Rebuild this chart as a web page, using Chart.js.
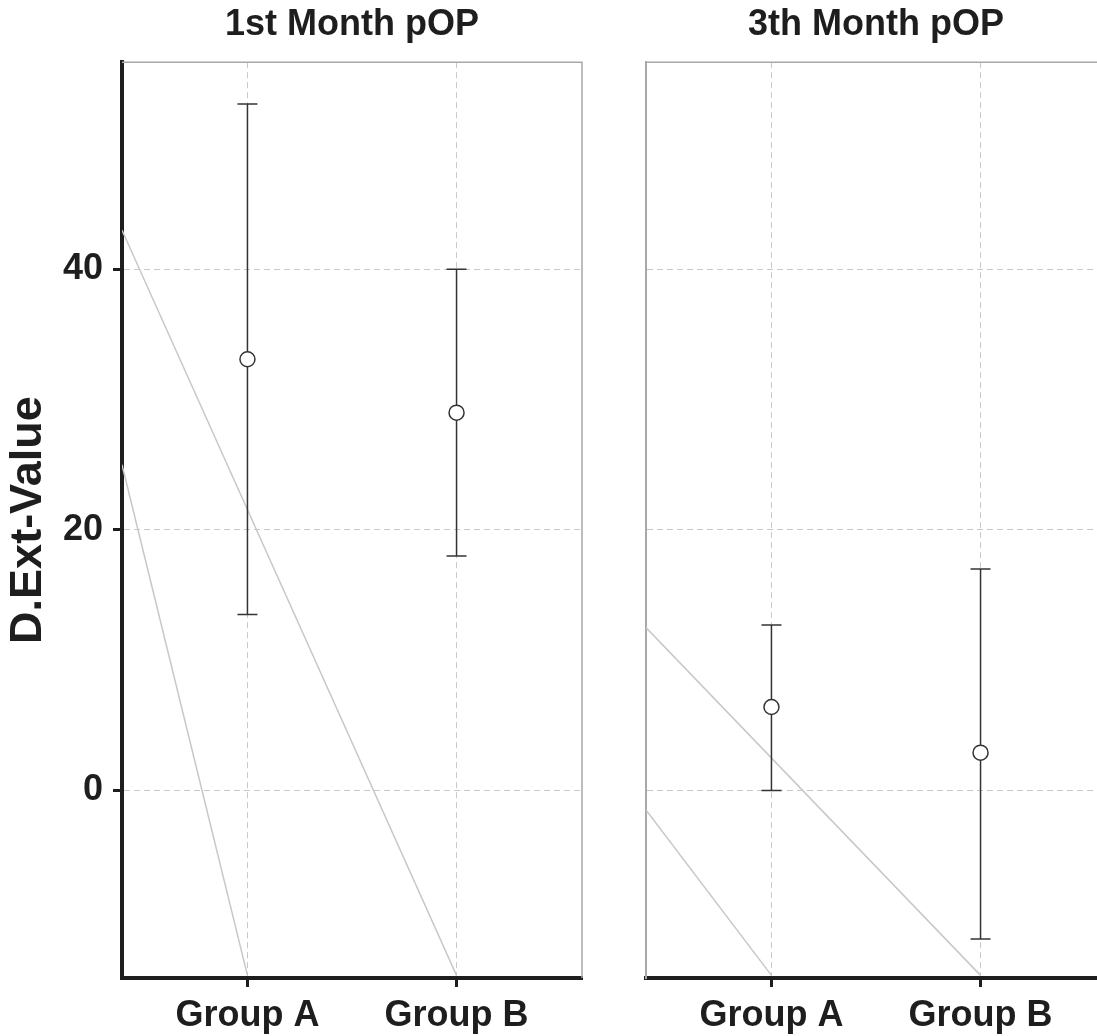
<!DOCTYPE html>
<html>
<head>
<meta charset="utf-8">
<title>D.Ext-Value by month</title>
<script src="https://cdn.jsdelivr.net/npm/chart.js@4.4.1/dist/chart.umd.min.js"></script>
<style>
  html, body { margin: 0; padding: 0; background: #fff; overflow: hidden; }
  .panel { position: absolute; top: 0; }
  #panel-1 { left: 0; }
  #panel-3 { left: 620px; }
</style>
</head>
<body>
<div class="panel" id="panel-1"><canvas id="chart-1" width="600" height="1036"></canvas></div>
<div class="panel" id="panel-3"><canvas id="chart-3" width="500" height="1036"></canvas></div>
<script>
const groups = ["Group A", "Group B"];
const groupPos = [1, 2];
const yTicks = [0, 20, 40];
const panelTitles = ["1st Month pOP", "3th Month pOP"];

const month1Mean = [33.1, 29.0];
const month1Low = [13.5, 18.0];
const month1High = [52.7, 40.0];

const month3Mean = [6.4, 2.9];
const month3Low = [0.0, -11.4];
const month3High = [12.7, 17.0];

// grey reference lines, [x, y] in data units
const month1Trend = [
  [[0.4, 43.0], [2, -14.2]],
  [[0.4, 25.0], [1, -14.2]]
];
const month3Trend = [
  [[0.4, 12.5], [2, -14.2]],
  [[0.4, -1.5], [1, -14.2]]
];

const FONT = "'Liberation Sans', Arial, Helvetica, sans-serif";
const INK = "#1e1e1e";
const BAR = "#333333";
const GRID = "#c8c8c8";

const frameBorder = {
  id: "frameBorder",
  afterDraw(chart) {
    const { ctx, chartArea } = chart;
    ctx.save();
    ctx.strokeStyle = "#a8a8a8";
    ctx.lineWidth = 1.5;
    ctx.beginPath();
    ctx.moveTo(chartArea.left, chartArea.top);
    ctx.lineTo(chartArea.right, chartArea.top);
    ctx.lineTo(chartArea.right, chartArea.bottom);
    ctx.stroke();
    ctx.restore();
  }
};

function buildDatasets(mean, low, high, trend) {
  const sets = [];
  sets.push({
    data: groupPos.map((x, i) => ({ x, y: mean[i] })),
    showLine: false,
    pointStyle: "circle",
    pointRadius: 7.5,
    pointBackgroundColor: "#fff",
    pointBorderColor: BAR,
    pointBorderWidth: 1.5,
    order: 0
  });
  groupPos.forEach((x, i) => {
    sets.push({
      data: [{ x, y: low[i] }, { x, y: high[i] }],
      showLine: true,
      borderColor: BAR,
      borderWidth: 1.5,
      pointStyle: "line",
      pointRadius: 10,
      pointBorderColor: BAR,
      pointBorderWidth: 1.5,
      order: 1
    });
  });
  trend.forEach((pts) => {
    sets.push({
      data: pts.map(([x, y]) => ({ x, y })),
      showLine: true,
      borderColor: GRID,
      borderWidth: 1.5,
      pointRadius: 0,
      order: 2
    });
  });
  return sets;
}

function makePanel(canvasId, title, datasets, withAxis) {
  const grid = {
    color: GRID,
    lineWidth: 1,
    tickColor: INK,
    tickWidth: 3,
    tickLength: 9,
    tickBorderDash: []
  };
  new Chart(document.getElementById(canvasId), {
    type: "scatter",
    data: { datasets },
    options: {
      responsive: false,
      animation: false,
      events: [],
      devicePixelRatio: 1,
      layout: { padding: { left: 0, right: withAxis ? 18 : 14, top: 0, bottom: 0 } },
      plugins: {
        legend: { display: false },
        tooltip: { enabled: false },
        title: {
          display: true,
          text: title,
          fullSize: false,
          color: INK,
          font: { family: FONT, size: 36, weight: "bold" },
          padding: { top: 3, bottom: 16 }
        }
      },
      scales: {
        x: {
          type: "linear",
          min: 0.4,
          max: 2.6,
          afterBuildTicks: (s) => { s.ticks = groupPos.map((v) => ({ value: v })); },
          afterFit: (s) => { s.height = 58; },
          ticks: {
            callback: (v, i) => groups[i],
            color: INK,
            font: { family: FONT, size: 36, weight: "bold" },
            padding: 7,
            maxRotation: 0,
            autoSkip: false
          },
          grid: { ...grid },
          border: { color: INK, width: 4, dash: [6, 4] }
        },
        y: {
          min: -14.4,
          max: 55.9,
          afterBuildTicks: (s) => { s.ticks = yTicks.map((v) => ({ value: v })); },
          afterFit: (s) => { s.width = withAxis ? 122 : 26; },
          ticks: {
            display: withAxis,
            color: INK,
            font: { family: FONT, size: 36, weight: "bold" },
            padding: 10
          },
          grid: { ...grid, drawTicks: withAxis },
          border: withAxis
            ? { color: INK, width: 4, dash: [6, 4] }
            : { color: "#a8a8a8", width: 2, dash: [6, 4] },
          title: {
            display: withAxis,
            text: "D.Ext-Value",
            color: INK,
            font: { family: FONT, size: 45, weight: "bold" },
            padding: { top: 2, bottom: 0 }
          }
        }
      }
    },
    plugins: [frameBorder]
  });
}

makePanel("chart-1", panelTitles[0], buildDatasets(month1Mean, month1Low, month1High, month1Trend), true);
makePanel("chart-3", panelTitles[1], buildDatasets(month3Mean, month3Low, month3High, month3Trend), false);
</script>
</body>
</html>
